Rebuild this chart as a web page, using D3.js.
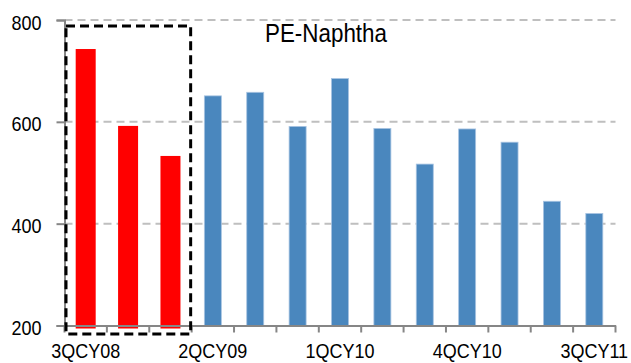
<!DOCTYPE html>
<html>
<head>
<meta charset="utf-8">
<script src="https://cdn.jsdelivr.net/npm/d3@7"></script>
<style>
  html, body { margin: 0; padding: 0; background: #fff; }
  svg { display: block; font-family: "Liberation Sans", Arial, sans-serif; }
</style>
</head>
<body>
<svg id="chart" width="631" height="363"></svg>
<script>
// Quarterly PE-Naphtha spread
const quarters = ["3QCY08","4QCY08","1QCY09","2QCY09","3QCY09","4QCY09","1QCY10",
                  "2QCY10","3QCY10","4QCY10","1QCY11","2QCY11","3QCY11"];
const spread = [743, 592, 533, 651, 658, 591, 685, 587, 517, 586, 560, 444, 420];
const highlighted = ["3QCY08","4QCY08","1QCY09"];
const yTicks = [200, 400, 600, 800];
const xLabels = ["3QCY08","2QCY09","1QCY10","4QCY10","3QCY11"];
const chartTitle = "PE-Naphtha";

const svg = d3.select("#chart");
const plotLeft = 64.5, plotRight = 615.5, plotTop = 20, plotBottom = 325.5;
const textStretch = 1.15;

const x = d3.scaleBand().domain(quarters).range([plotLeft, plotRight]).paddingInner(0).paddingOuter(0);
const y = d3.scaleLinear().domain([200, 800]).range([plotBottom, plotTop]);

// dashed gridlines
svg.append("g").selectAll("line")
  .data(yTicks.filter(d => d > 200))
  .join("line")
  .attr("x1", plotLeft).attr("x2", plotRight)
  .attr("y1", d => y(d)).attr("y2", d => y(d))
  .attr("stroke", "#bfbfbf").attr("stroke-width", 2)
  .attr("stroke-dasharray", "8,5");

// bars
const isHi = d => highlighted.includes(d);
svg.append("g").selectAll("rect")
  .data(quarters.map((q, i) => ({ q, v: spread[i] })))
  .join("rect")
  .attr("x", d => x(d.q) + x.bandwidth() / 2 - (isHi(d.q) ? 10 : 8.5))
  .attr("width", d => isHi(d.q) ? 20 : 17)
  .attr("y", d => y(d.v))
  .attr("height", d => y(200) - y(d.v) + (isHi(d.q) ? 3 : 0))
  .attr("fill", d => isHi(d.q) ? "#ff0000" : "#4a87be")
  .attr("stroke", d => isHi(d.q) ? "none" : "#a8c4e2")
  .attr("stroke-width", 0.8);

// y axis
const yAxis = svg.append("g")
  .attr("transform", `translate(${plotLeft},0)`)
  .call(d3.axisLeft(y).tickValues(yTicks).tickSize(8).tickPadding(0).tickFormat(d3.format("d")));
yAxis.select(".domain").attr("stroke", "#868686").attr("stroke-width", 2);
yAxis.selectAll(".tick line").attr("stroke", "#868686").attr("stroke-width", 2);
yAxis.selectAll(".tick text")
  .attr("font-size", 18).attr("fill", "#000")
  .attr("text-anchor", "end")
  .attr("dy", null)
  .attr("x", -23)
  .attr("y", 9 / textStretch)
  .attr("transform", `scale(1,${textStretch})`);

// x axis: labels at category centres, ticks at category boundaries
const xAxis = svg.append("g")
  .attr("transform", `translate(0,${plotBottom})`)
  .call(d3.axisBottom(x).tickSize(0).tickFormat(d => xLabels.includes(d) ? d : ""));
xAxis.select(".domain").attr("stroke", "#868686").attr("stroke-width", 2);
xAxis.selectAll(".tick text")
  .attr("font-size", 18).attr("fill", "#000")
  .attr("dy", null)
  .attr("y", 33 / textStretch)
  .attr("transform", `scale(1,${textStretch})`);

const bounds = quarters.map(q => x(q)).concat([x(quarters[quarters.length - 1]) + x.step()]);
xAxis.append("g").selectAll("line")
  .data(bounds)
  .join("line")
  .attr("x1", d => d).attr("x2", d => d)
  .attr("y1", 0).attr("y2", 7)
  .attr("stroke", "#868686").attr("stroke-width", 2);

// highlight box around the first three quarters
const boxL = x(quarters[0]) + 1.5;
const boxR = x(quarters[2]) + x.step() - 1;
svg.append("rect")
  .attr("x", boxL).attr("y", 26)
  .attr("width", boxR - boxL).attr("height", 334 - 26)
  .attr("fill", "none")
  .attr("stroke", "#000").attr("stroke-width", 3)
  .attr("stroke-dasharray", "9,5");

// title
svg.append("text")
  .attr("x", 326).attr("y", 42.3 / 1.17)
  .attr("transform", "scale(1,1.17)")
  .attr("text-anchor", "middle")
  .attr("font-size", 22.4)
  .attr("fill", "#000")
  .text(chartTitle);
</script>
</body>
</html>
